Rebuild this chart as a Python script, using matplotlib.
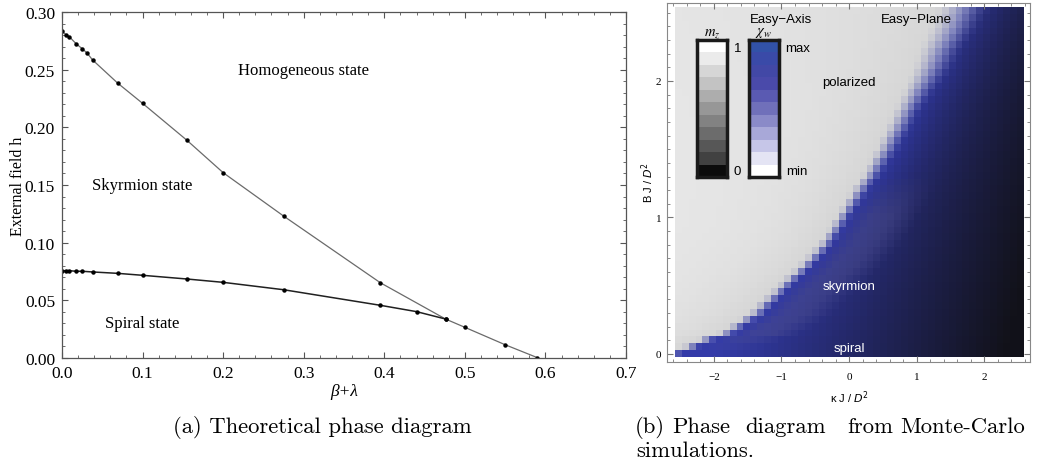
import numpy as np
import matplotlib.pyplot as plt
from matplotlib.colors import to_rgb
from matplotlib.ticker import MultipleLocator, FormatStrFormatter, FuncFormatter

W, H = 1039, 464

# ---- (a) theoretical phase diagram ----
upper_x = [0.0, 0.005, 0.009, 0.0175, 0.025, 0.031, 0.038, 0.069, 0.1, 0.155,
           0.2, 0.275, 0.395, 0.476, 0.5, 0.55, 0.59]
upper_y = [0.2833, 0.2803, 0.2786, 0.2725, 0.2682, 0.2645, 0.2584, 0.2384, 0.2208,
           0.1888, 0.1607, 0.1231, 0.0653, 0.0338, 0.0266, 0.0115, 0.0003]
lower_x = [0.0, 0.005, 0.009, 0.0175, 0.025, 0.038, 0.069, 0.1, 0.155, 0.2,
           0.275, 0.395, 0.44, 0.476]
lower_y = [0.0757, 0.0757, 0.0757, 0.0752, 0.0752, 0.0746, 0.0734, 0.0717, 0.0685,
           0.0656, 0.0592, 0.0457, 0.0402, 0.0338]

# ---- (b) Monte-Carlo phase diagram ----
# polarized / blue boundary (kappa where blue sets in) for a set of field values
bnd_B = [0.0, 0.06, 0.11, 0.15, 0.20, 0.26, 0.31, 0.37, 0.41, 0.46, 0.51, 0.57,
         0.62, 0.70, 0.81, 0.90, 1.00, 1.10, 1.19, 1.25, 1.29, 1.39, 1.49, 1.58,
         1.68, 1.78, 1.88, 1.98, 2.10, 2.22, 2.34, 2.44, 2.51]
bnd_k = [-2.60, -2.28, -2.06, -1.81, -1.66, -1.47, -1.32, -1.22, -1.12, -1.02,
         -0.92, -0.80, -0.68, -0.53, -0.33, -0.21, -0.09, 0.04, 0.16, 0.24, 0.31,
         0.43, 0.56, 0.65, 0.76, 0.86, 0.98, 1.10, 1.24, 1.35, 1.50, 1.60, 1.67]
# width of the grey -> blue transition
wid_B = [0.0, 1.0, 1.8, 2.5]
wid_k = [0.30, 0.24, 0.45, 0.85]
bright_blue = np.array([0.20, 0.23, 0.66])
dark_end = np.array([0.07, 0.07, 0.10])
patch_col = np.array([0.33, 0.33, 0.55])

# legend bars (top to bottom)
mz_colors = ['#ffffff', '#ebebeb', '#d6d6d6', '#c3c3c3', '#adadad', '#979797',
             '#828282', '#6c6c6c', '#575757', '#414141', '#0c0c0c']
chi_colors = ['#3252a8', '#3a4aa8', '#4248a6', '#4a4aaa', '#5a5ab2', '#7070ba',
              '#8a8ac8', '#a8a8d8', '#c6c6e8', '#e4e4f4', '#ffffff']

plt.rcParams['font.family'] = ['Liberation Serif', 'DejaVu Serif']
plt.rcParams['mathtext.fontset'] = 'dejavusans'

fig = plt.figure(figsize=(W / 100, H / 100), dpi=100)


def rect(x0, y0, x1, y1):
    return [x0 / W, 1 - y1 / H, (x1 - x0) / W, (y1 - y0) / H]


# ---------- left panel ----------
ax1 = fig.add_axes(rect(62, 13, 626, 359))
ax1.plot(upper_x, upper_y, color='#6a6a6a', lw=0.9)
ax1.plot(lower_x, lower_y, color='#202020', lw=1.1)
ax1.plot(upper_x, upper_y, 'o', color='black', ms=2.2)
ax1.plot(lower_x, lower_y, 'o', color='black', ms=2.2)
ax1.set_xlim(0, 0.7)
ax1.set_ylim(0, 0.3)
ax1.xaxis.set_major_locator(MultipleLocator(0.1))
ax1.xaxis.set_minor_locator(MultipleLocator(0.02))
ax1.yaxis.set_major_locator(MultipleLocator(0.05))
ax1.yaxis.set_minor_locator(MultipleLocator(0.01))
ax1.xaxis.set_major_formatter(FormatStrFormatter('%.1f'))
ax1.yaxis.set_major_formatter(FormatStrFormatter('%.2f'))
ax1.tick_params(which='both', direction='in', top=True, right=True, color='#555555')
ax1.tick_params(which='major', length=4, labelsize=12.5, pad=5)
ax1.tick_params(which='minor', length=2)
for s in ax1.spines.values():
    s.set_color('#555555')
    s.set_linewidth(0.9)
ax1.text(0.30, 0.25, 'Homogeneous state', fontsize=12, ha='center', va='center')
ax1.text(0.10, 0.15, 'Skyrmion state', fontsize=12, ha='center', va='center')
ax1.text(0.10, 0.03, 'Spiral state', fontsize=12, ha='center', va='center')
fig.text(18 / W, 1 - 186 / H, 'External field h', fontsize=11.5, rotation=90,
         ha='center', va='center')
fig.text(344 / W, 1 - 392 / H, 'β+λ', fontsize=12.5, style='italic',
         ha='center', va='center')

# ---------- right panel ----------
n = 51
kap_c = np.linspace(-2.53, 2.53, n)
B_c = np.linspace(0.0, 2.51, n)
kb = np.interp(B_c, bnd_B, bnd_k)
wd = np.interp(B_c, wid_B, wid_k)
K, BB = np.meshgrid(kap_c, B_c)
D = K - kb[:, None]
a = np.clip(0.5 + D / wd[:, None], 0, 1)
a = a * a * (3 - 2 * a)
gray = 0.91 - 0.08 * np.exp(np.minimum(D, 0) / (0.5 + wd[:, None] * 2))
q = np.clip((K + 2.0 - 0.5 * BB) / 4.3, 0, 1)
depth = 1 - np.exp(-np.maximum(D, 0) / 0.5)
qe = q * depth
blue = bright_blue * (1 - qe[..., None]) + dark_end * qe[..., None]
# greyish skyrmion patch
sk = np.clip((D - 0.1) / 0.3, 0, 1) * np.clip((1.1 - D) / 0.4, 0, 1) * \
     np.clip((1.3 - BB) / 0.3, 0, 1) * np.clip(BB / 0.15, 0, 1)
blue = blue * (1 - 0.4 * sk[..., None]) + patch_col * 0.4 * sk[..., None]
rgb = gray[..., None] * (1 - a[..., None]) + blue * a[..., None]

ax2 = fig.add_axes(rect(667, 4, 1030, 363))
ax2.imshow(rgb, origin='lower', extent=[-2.58, 2.58, -0.025, 2.535],
           aspect='auto', interpolation='nearest')
ax2.set_xlim(-2.696, 2.681)
ax2.set_ylim(-0.0586, 2.571)
ax2.xaxis.set_major_locator(MultipleLocator(1))
ax2.xaxis.set_minor_locator(MultipleLocator(0.2))
ax2.yaxis.set_major_locator(MultipleLocator(1))
ax2.yaxis.set_minor_locator(MultipleLocator(0.1))
minus_fmt = FuncFormatter(lambda v, p: ('%d' % round(v)).replace('-', '\u2212'))
ax2.xaxis.set_major_formatter(minus_fmt)
ax2.yaxis.set_major_formatter(minus_fmt)
ax2.tick_params(which='both', direction='in', top=True, right=True, color='#777777')
ax2.tick_params(which='major', length=4, labelsize=8)
ax2.tick_params(axis='x', which='major', pad=7)
ax2.tick_params(axis='y', which='major', pad=4)
ax2.tick_params(which='minor', length=2)
for s in ax2.spines.values():
    s.set_color('#888888')
    s.set_linewidth(0.8)
sans = ['Liberation Sans', 'DejaVu Sans']
ax2.text(-1.0, 2.455, 'Easy\u2212Axis', family=sans, fontsize=9.5, ha='center', va='center')
ax2.text(1.0, 2.455, 'Easy\u2212Plane', family=sans, fontsize=9.5, ha='center', va='center')
ax2.text(0.0, 1.99, 'polarized', family=sans, fontsize=9.5, ha='center', va='center')
ax2.text(0.0, 0.50, 'skyrmion', family=sans, fontsize=9.5, ha='center', va='center',
         color='white')
ax2.text(0.0, 0.045, 'spiral', family=sans, fontsize=9.5, ha='center', va='center',
         color='white')
fig.text(648 / W, 1 - 183 / H, 'B J / $D^2$', family=sans, fontsize=8,
         rotation=90, ha='center', va='center')
fig.text(849 / W, 1 - 398 / H, '\u03ba J / $D^2$', family=sans, fontsize=8,
         ha='center', va='center')

# legend bars
for x0, cols in [(697, mz_colors), (749, chi_colors)]:
    lax = fig.add_axes(rect(x0, 41, x0 + 30, 178))
    lax.imshow(np.array([[to_rgb(c)] for c in cols]),
               aspect='auto', interpolation='nearest')
    lax.set_xticks([])
    lax.set_yticks([])
    for s in lax.spines.values():
        s.set_linewidth(2.5)
        s.set_color('#1a1a1a')
fig.text(712 / W, 1 - 40 / H, '$m_z$', fontsize=10.5, math_fontfamily='stix',
         ha='center', va='bottom')
fig.text(763 / W, 1 - 40 / H, r'$\chi_w$', fontsize=10.5, math_fontfamily='stix',
         ha='center', va='bottom')
fig.text(734 / W, 1 - 49 / H, '1', family=sans, fontsize=9.5, ha='left', va='center')
fig.text(734 / W, 1 - 172 / H, '0', family=sans, fontsize=9.5, ha='left', va='center')
fig.text(785 / W, 1 - 49 / H, 'max', family=sans, fontsize=9.5, ha='left', va='center')
fig.text(786 / W, 1 - 172 / H, 'min', family=sans, fontsize=9.5, ha='left', va='center')

# captions
cap = dict(family='cmr10', fontsize=16.3, va='baseline')
fig.text(322 / W, 1 - 433 / H, '(a) Theoretical phase diagram', ha='center', **cap)
for x0, word in [(635, '(b)'), (672, 'Phase'), (745, 'diagram'), (847, 'from'),
                 (900, 'Monte-Carlo')]:
    fig.text(x0 / W, 1 - 433 / H, word, ha='left', **cap)
fig.text(636 / W, 1 - 457 / H, 'simulations.', ha='left', **cap)

fig.savefig('out.png', dpi=100)
